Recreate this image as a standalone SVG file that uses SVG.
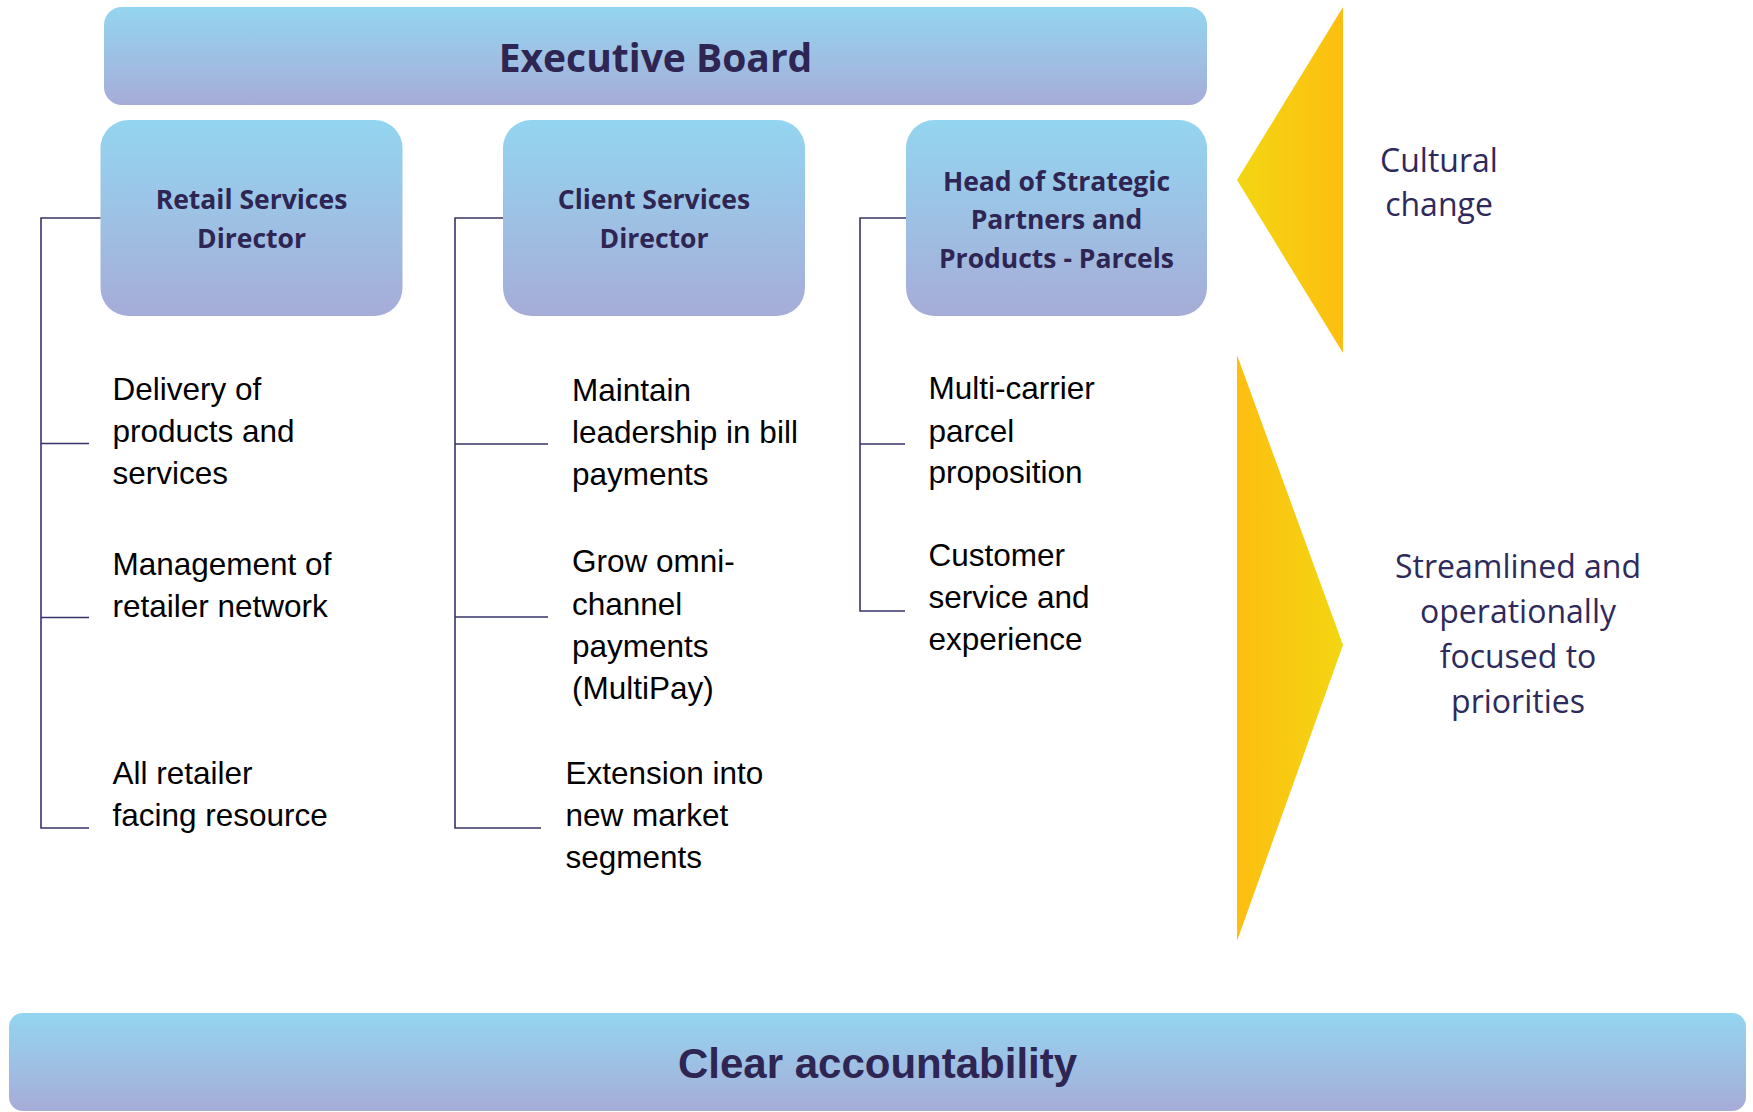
<svg xmlns="http://www.w3.org/2000/svg" width="1753" height="1112" viewBox="0 0 1753 1112">
  <defs>
    <linearGradient id="boxFill" x1="0" y1="0" x2="0" y2="1">
      <stop offset="0" stop-color="#93D5F0"/>
      <stop offset="0.45" stop-color="#9CC3E5"/>
      <stop offset="1" stop-color="#A6ACD8"/>
    </linearGradient>
    <linearGradient id="yellowLR" x1="0" y1="0" x2="1" y2="0">
      <stop offset="0" stop-color="#F3D612"/>
      <stop offset="1" stop-color="#FDBE10"/>
    </linearGradient>
    <linearGradient id="yellowRL" x1="0" y1="0" x2="1" y2="0">
      <stop offset="0" stop-color="#FDBE10"/>
      <stop offset="1" stop-color="#F3D612"/>
    </linearGradient>
    <style>
      .box { fill: url(#boxFill); }
      .title { font-family: "Open Sans", "Noto Sans", sans-serif; font-weight: 700; fill: #2E2553; text-anchor: middle; }
      .head { font-size: 26.5px; }
      .item { font-family: "Liberation Sans", Arial, sans-serif; font-size: 31.5px; fill: #000000; }
      .side { font-family: "Open Sans", "Noto Sans", sans-serif; font-size: 32px; fill: #2E2A5C; text-anchor: middle; }
      .conn { fill: none; stroke: #37336B; stroke-width: 1.6; }
    </style>
  </defs>

  <rect width="1753" height="1112" fill="#FFFFFF"/>

  <!-- top bar -->
  <g id="executive-board">
    <rect class="box" x="104" y="7" width="1103" height="98" rx="18"/>
    <text class="title" x="655.5" y="72" font-size="39">Executive Board</text>
  </g>

  <!-- director boxes -->
  <g id="retail-services-director">
    <rect class="box" x="100.5" y="120" width="302" height="196" rx="28"/>
    <text class="title head" x="251.5" y="209">Retail Services</text>
    <text class="title head" x="251.5" y="248">Director</text>
  </g>
  <g id="client-services-director">
    <rect class="box" x="503" y="120" width="302" height="196" rx="28"/>
    <text class="title head" x="654" y="209">Client Services</text>
    <text class="title head" x="654" y="248">Director</text>
  </g>
  <g id="head-of-strategic-partners">
    <rect class="box" x="906" y="120" width="301" height="196" rx="28"/>
    <text class="title head" x="1056.5" y="191">Head of Strategic</text>
    <text class="title head" x="1056.5" y="229">Partners and</text>
    <text class="title head" x="1056.5" y="268">Products - Parcels</text>
  </g>

  <!-- bracket connectors from each director to its responsibilities -->
  <g id="connectors">
    <path class="conn" d="M100.5,218 H41 V828 H89 M41,443.5 H89 M41,617.5 H89"/>
    <path class="conn" d="M503,218 H455 V828 H541 M455,444 H548 M455,617 H548"/>
    <path class="conn" d="M906,218 H860 V611 H905 M860,444 H905"/>
  </g>

  <!-- retail responsibilities -->
  <g id="retail-items">
    <text class="item" x="112.5" y="400">Delivery of</text>
    <text class="item" x="112.5" y="442">products and</text>
    <text class="item" x="112.5" y="484">services</text>
    <text class="item" x="112.5" y="575">Management of</text>
    <text class="item" x="112.5" y="617">retailer network</text>
    <text class="item" x="112.5" y="784">All retailer</text>
    <text class="item" x="112.5" y="825.5">facing resource</text>
  </g>

  <!-- client responsibilities -->
  <g id="client-items">
    <text class="item" x="572" y="401">Maintain</text>
    <text class="item" x="572" y="443">leadership in bill</text>
    <text class="item" x="572" y="484.5">payments</text>
    <text class="item" x="572" y="572">Grow omni-</text>
    <text class="item" x="572" y="614.5">channel</text>
    <text class="item" x="572" y="657">payments</text>
    <text class="item" x="572" y="699">(MultiPay)</text>
    <text class="item" x="565.5" y="783.5">Extension into</text>
    <text class="item" x="565.5" y="825.5">new market</text>
    <text class="item" x="565.5" y="868">segments</text>
  </g>

  <!-- parcels responsibilities -->
  <g id="parcels-items">
    <text class="item" x="928.5" y="399">Multi-carrier</text>
    <text class="item" x="928.5" y="441.5">parcel</text>
    <text class="item" x="928.5" y="483">proposition</text>
    <text class="item" x="928.5" y="566">Customer</text>
    <text class="item" x="928.5" y="608">service and</text>
    <text class="item" x="928.5" y="650">experience</text>
  </g>

  <!-- side arrows and captions -->
  <g id="cultural-change">
    <polygon points="1343,7 1237,180 1343,353" fill="url(#yellowLR)"/>
    <text class="side" x="1439" y="171.5">Cultural</text>
    <text class="side" x="1439" y="216">change</text>
  </g>
  <g id="streamlined">
    <polygon points="1237,355 1343,645 1237,941" fill="url(#yellowRL)"/>
    <text class="side" x="1518" y="578">Streamlined and</text>
    <text class="side" x="1518" y="623">operationally</text>
    <text class="side" x="1518" y="668">focused to</text>
    <text class="side" x="1518" y="713">priorities</text>
  </g>

  <!-- bottom bar -->
  <g id="clear-accountability">
    <rect class="box" x="9" y="1013" width="1737" height="98" rx="14"/>
    <text x="877.5" y="1078" font-family="Liberation Sans, Arial, sans-serif" font-weight="700" font-size="42" fill="#2E2553" text-anchor="middle">Clear accountability</text>
  </g>
</svg>
